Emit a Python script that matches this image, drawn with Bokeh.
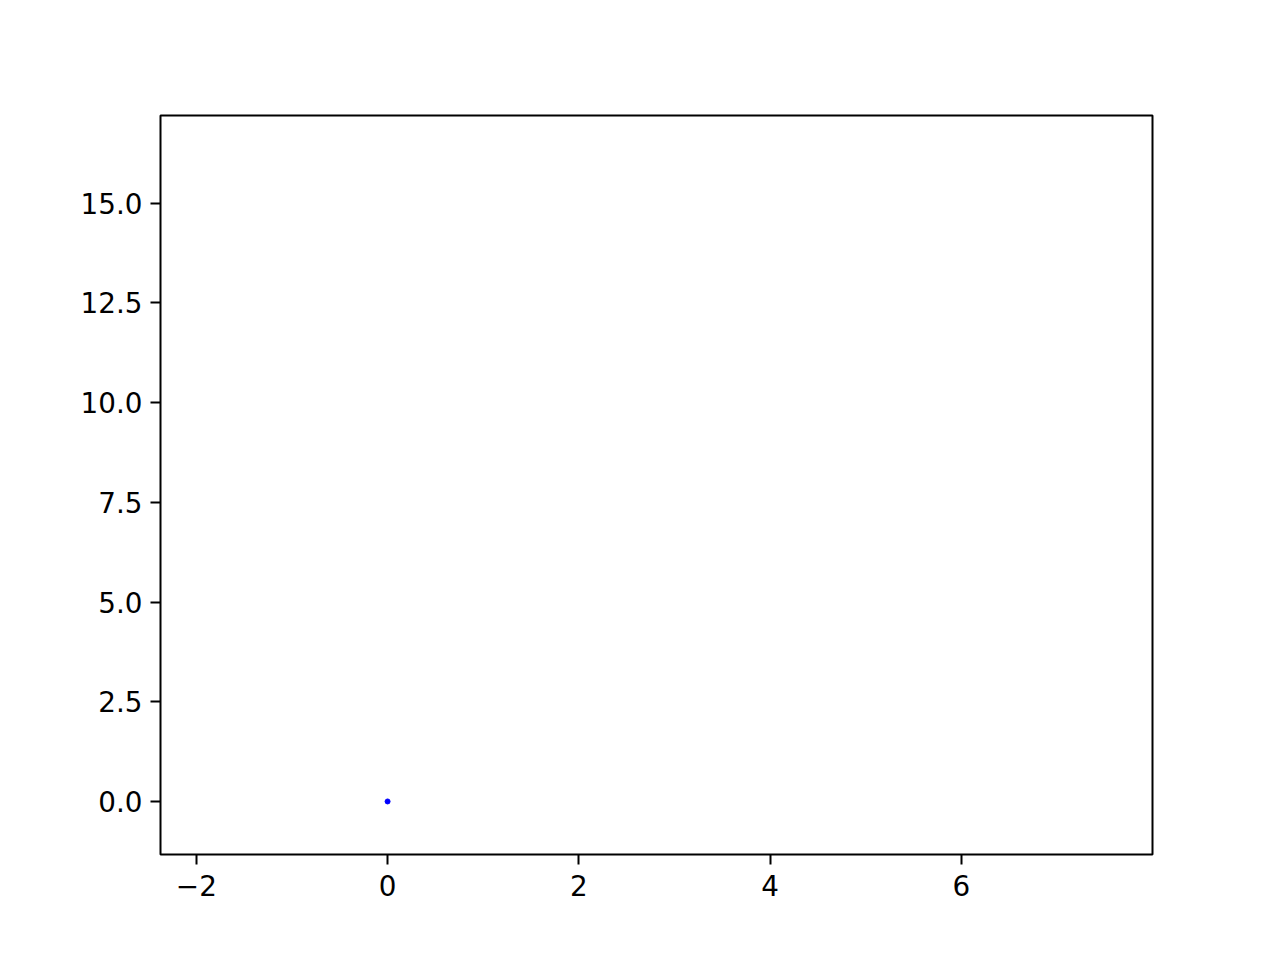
from bokeh.plotting import figure
from bokeh.models import FixedTicker, Range1d
from bokeh.embed import file_html
from bokeh.resources import INLINE

# Data
xs = [0.0]
ys = [0.0]
x_ticks = [-2, 0, 2, 4, 6]
x_tick_labels = ["\u22122", "0", "2", "4", "6"]
y_ticks = [0.0, 2.5, 5.0, 7.5, 10.0, 12.5, 15.0]
y_tick_labels = ["0.0", "2.5", "5.0", "7.5", "10.0", "12.5", "15.0"]

W, H = 1264, 944
p = figure(width=W, height=H, output_backend="svg", toolbar_location=None,
           x_range=Range1d(-2.375, 8.0), y_range=Range1d(-1.33, 17.2),
           min_border_left=160, min_border_right=112,
           min_border_top=115, min_border_bottom=90)
p.grid.visible = False
p.outline_line_color = "black"
p.outline_line_width = 2
p.background_fill_color = "white"
p.border_fill_color = "white"

p.xaxis.ticker = FixedTicker(ticks=x_ticks)
p.xaxis.major_label_overrides = {t: l for t, l in zip(x_ticks, x_tick_labels)}
p.yaxis.ticker = FixedTicker(ticks=y_ticks)
p.yaxis.major_label_overrides = {t: l for t, l in zip(y_ticks, y_tick_labels)}

for ax in (p.xaxis[0], p.yaxis[0]):
    ax.axis_line_color = None
    ax.minor_tick_line_color = None
    ax.major_tick_in = 0
    ax.major_tick_out = 10
    ax.major_tick_line_width = 2
    ax.major_label_text_font = "DejaVu Sans"
    ax.major_label_text_font_size = "27.8px"
    ax.major_label_text_color = "black"
p.xaxis[0].major_label_standoff = 10
p.yaxis[0].major_label_standoff = 8

p.scatter(xs, ys, size=5, color="blue", marker="circle")

open("out.html", "w").write(file_html(p, INLINE))
